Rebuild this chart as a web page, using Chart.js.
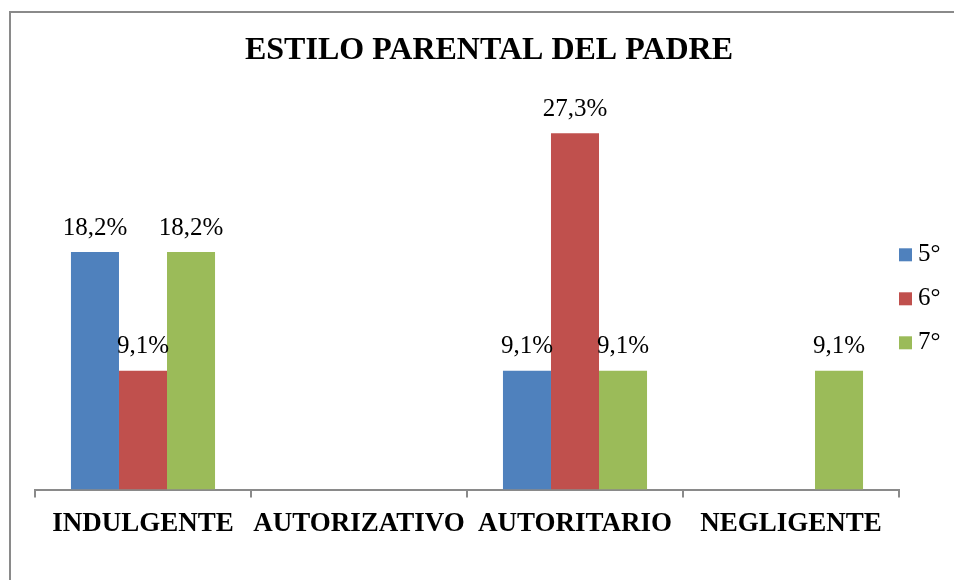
<!DOCTYPE html>
<html>
<head>
<meta charset="utf-8">
<script src="https://cdn.jsdelivr.net/npm/chart.js@4"></script>
<style>
  html, body { margin: 0; padding: 0; background: #fff; }
  .wrap { position: relative; width: 954px; height: 580px; overflow: hidden; }
  .frame { position: absolute; left: 9px; top: 11px; width: 1000px; height: 1000px; border: 2px solid #8a8a8a; box-sizing: border-box; }
  canvas { position: absolute; left: 0; top: 0; }
</style>
</head>
<body>
<div class="wrap">
  <div class="frame"></div>
  <canvas id="chart" width="954" height="580"></canvas>
</div>
<script>
const categories = ['INDULGENTE', 'AUTORIZATIVO', 'AUTORITARIO', 'NEGLIGENTE'];
const seriesNames = ['5°', '6°', '7°'];
const grade5 = [18.2, 0, 9.1, 0];
const grade6 = [9.1, 0, 27.3, 0];
const grade7 = [18.2, 0, 9.1, 9.1];
const colors = ['#4F81BD', '#C0504D', '#9BBB59'];
const chartTitle = 'ESTILO PARENTAL DEL PADRE';

// numbers over the bars, skipping empty ones
const valueLabels = {
  id: 'valueLabels',
  afterDatasetsDraw(chart) {
    const ctx = chart.ctx;
    ctx.save();
    ctx.font = '25px "Liberation Serif"';
    ctx.fillStyle = '#000';
    ctx.textAlign = 'center';
    ctx.textBaseline = 'middle';
    chart.data.datasets.forEach((ds, i) => {
      chart.getDatasetMeta(i).data.forEach((bar, j) => {
        const v = ds.data[j];
        if (!v) return;
        ctx.fillText(v.toFixed(1).replace('.', ',') + '%', bar.x, bar.y - 24);
      });
    });
    ctx.restore();
  }
};

// title centred on the whole frame, not on the plot
const frameTitle = {
  id: 'frameTitle',
  afterDraw(chart) {
    const ctx = chart.ctx;
    ctx.save();
    ctx.font = 'bold 32px "Liberation Serif"';
    ctx.fillStyle = '#000';
    ctx.textAlign = 'center';
    ctx.textBaseline = 'middle';
    ctx.fillText(chartTitle, 489, 51);
    ctx.restore();
  }
};

// legend at the right end of the axis, like the Excel one
const sideLegend = {
  id: 'sideLegend',
  afterDraw(chart) {
    const ctx = chart.ctx;
    const area = chart.chartArea;
    const mid = (area.top + area.bottom) / 2 + 5;
    ctx.save();
    ctx.font = '25px "Liberation Serif"';
    ctx.textBaseline = 'middle';
    ctx.textAlign = 'left';
    chart.data.datasets.forEach((ds, i) => {
      const y = mid + (i - 1) * 44;
      ctx.fillStyle = ds.backgroundColor;
      ctx.fillRect(area.right, y - 6.5, 13, 13);
      ctx.fillStyle = '#000';
      ctx.fillText(ds.label, area.right + 19, y);
    });
    ctx.restore();
  }
};

const ctx = document.getElementById('chart').getContext('2d');
new Chart(ctx, {
  type: 'bar',
  data: {
    labels: categories,
    datasets: [
      { label: seriesNames[0], data: grade5, backgroundColor: colors[0] },
      { label: seriesNames[1], data: grade6, backgroundColor: colors[1] },
      { label: seriesNames[2], data: grade7, backgroundColor: colors[2] }
    ]
  },
  options: {
    responsive: false,
    animation: false,
    layout: { padding: { left: 35, right: 55, top: 98, bottom: 30 } },
    categoryPercentage: 0.667,
    barPercentage: 1,
    plugins: {
      legend: { display: false },
      tooltip: { enabled: false },
      title: { display: false }
    },
    scales: {
      x: {
        grid: { offset: true, drawOnChartArea: false, drawTicks: true, tickLength: 8, color: '#8a8a8a', lineWidth: 2 },
        border: { display: true, color: '#8a8a8a', width: 2 },
        ticks: {
          color: '#000',
          padding: 10,
          autoSkip: false,
          maxRotation: 0,
          font: { family: 'Liberation Serif', size: 27, weight: 'bold' }
        }
      },
      y: { display: false, min: 0, max: 30 }
    }
  },
  plugins: [valueLabels, frameTitle, sideLegend]
});
</script>
</body>
</html>
